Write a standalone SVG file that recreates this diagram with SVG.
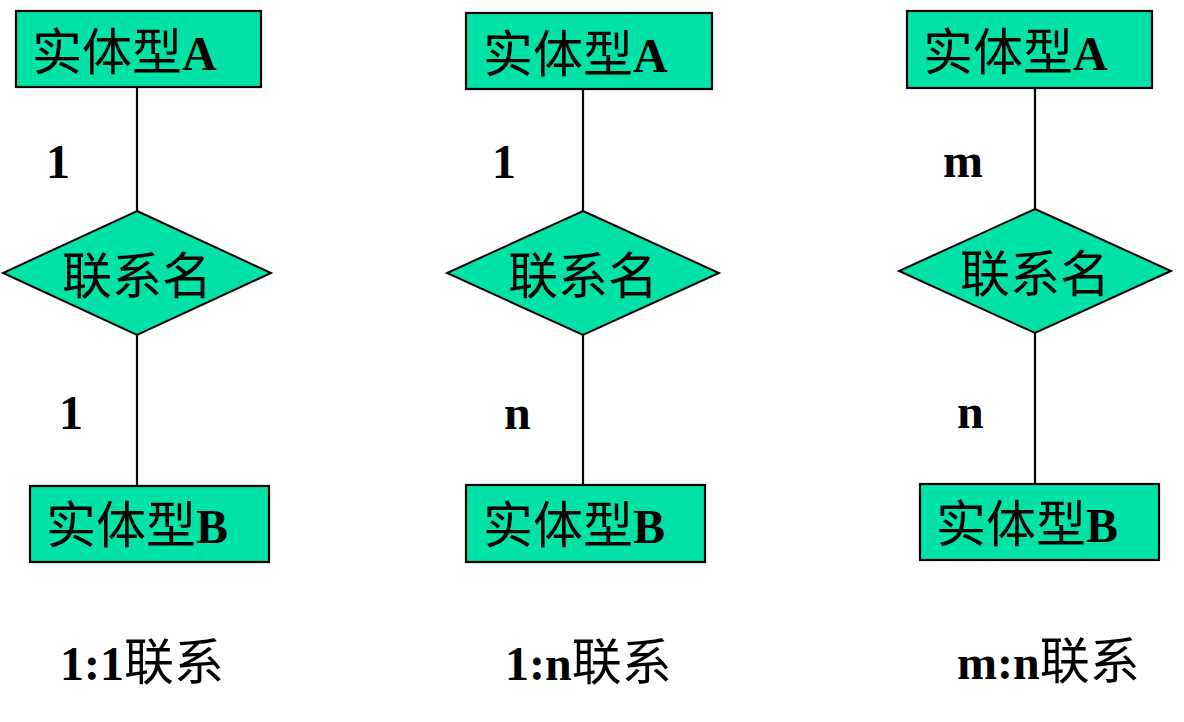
<svg xmlns="http://www.w3.org/2000/svg" width="1184" height="722" viewBox="0 0 1184 722">
<style>
.ent{fill:#00E2A8;stroke:#000;stroke-width:2.2}
.rel{fill:#00E2A8;stroke:#000;stroke-width:2}
.cn{stroke:#000;stroke-width:2.2;fill:none}
text{font-family:"Liberation Serif","Noto Sans CJK SC",serif;font-size:48px;fill:#000}
.b{font-weight:bold}
.c{font-family:"Noto Sans CJK SC","Liberation Serif",sans-serif;font-weight:normal;font-size:50px}
</style>
<rect width="1184" height="722" fill="#fff"/>
<g id="connectors">
<line class="cn" x1="137" y1="87" x2="137" y2="212"/>
<line class="cn" x1="137" y1="335" x2="137" y2="486"/>
<line class="cn" x1="583" y1="89" x2="583" y2="212"/>
<line class="cn" x1="583" y1="335" x2="583" y2="485"/>
<line class="cn" x1="1035" y1="88" x2="1035" y2="210"/>
<line class="cn" x1="1035" y1="333" x2="1035" y2="484"/>
</g>
<g id="entityA1"><rect class="ent" x="16" y="11" width="245" height="76"/><text x="32" y="70"><tspan class="c">实体型</tspan><tspan class="b">A</tspan></text></g>
<g id="rel1"><polygon class="rel" points="137,211 271,273 137,335 3,273"/><text x="62" y="294" class="c">联系名</text></g>
<g id="entityB1"><rect class="ent" x="30" y="486" width="239" height="76"/><text x="46" y="543"><tspan class="c">实体型</tspan><tspan class="b">B</tspan></text></g>
<text class="b" x="46" y="178">1</text>
<text class="b" x="59" y="429">1</text>

<g id="entityA2"><rect class="ent" x="466" y="13" width="246" height="76"/><text x="483" y="72"><tspan class="c">实体型</tspan><tspan class="b">A</tspan></text></g>
<g id="rel2"><polygon class="rel" points="583,211 719,273 583,335 447,273"/><text x="508" y="294" class="c">联系名</text></g>
<g id="entityB2"><rect class="ent" x="466" y="485" width="239" height="77"/><text x="483" y="543"><tspan class="c">实体型</tspan><tspan class="b">B</tspan></text></g>
<text class="b" x="492" y="178">1</text>
<text class="b" x="504" y="429">n</text>

<g id="entityA3"><rect class="ent" x="907" y="11" width="245" height="77"/><text x="923" y="70"><tspan class="c">实体型</tspan><tspan class="b">A</tspan></text></g>
<g id="rel3"><polygon class="rel" points="1035,209 1171,271 1035,333 899,271"/><text x="960" y="292" class="c">联系名</text></g>
<g id="entityB3"><rect class="ent" x="920" y="484" width="239" height="76"/><text x="936" y="542"><tspan class="c">实体型</tspan><tspan class="b">B</tspan></text></g>
<text class="b" x="943" y="177">m</text>
<text class="b" x="957" y="428">n</text>

<text x="60" y="680"><tspan class="b">1:1</tspan><tspan class="c">联系</tspan></text>
<text x="505" y="680"><tspan class="b">1:n</tspan><tspan class="c">联系</tspan></text>
<text x="957" y="679"><tspan class="b">m:n</tspan><tspan class="c">联系</tspan></text>
</svg>
